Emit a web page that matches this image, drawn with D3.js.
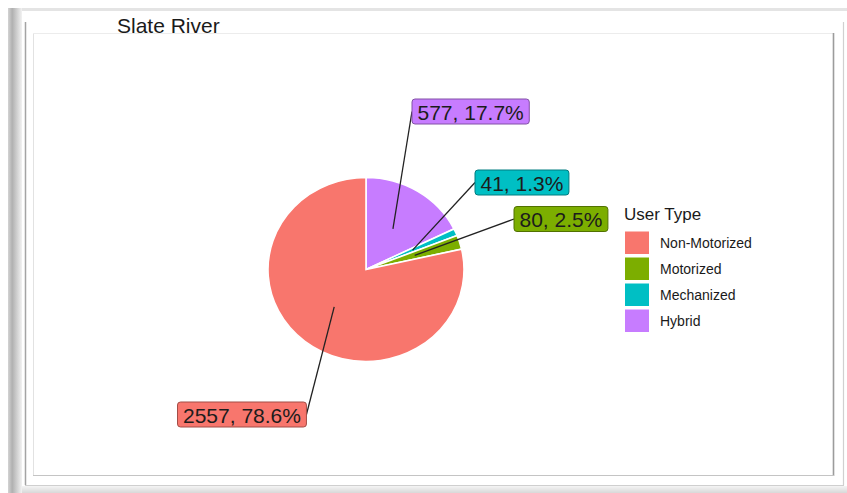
<!DOCTYPE html>
<html>
<head>
<meta charset="utf-8">
<script src="https://cdn.jsdelivr.net/npm/d3@7"></script>
<style>
  html, body { margin: 0; padding: 0; background: #fff; }
  svg { display: block; font-family: "Liberation Sans", Arial, sans-serif; }
</style>
</head>
<body>
<svg id="chart" width="847" height="493"></svg>
<script>
// Trail user counts for Slate River, by user type
const categories = ["Non-Motorized", "Motorized", "Mechanized", "Hybrid"];
const counts = [2557, 80, 41, 577];
const colors = ["#F8766D", "#7CAE00", "#00BFC4", "#C77CFF"];
const title = "Slate River";
const legendTitle = "User Type";

const W = 847, H = 493;
const svg = d3.select("#chart");

// ---- picture frame ----
const defs = svg.append("defs");
const lg = defs.append("linearGradient").attr("id", "leftShade").attr("x1", 0).attr("x2", 1).attr("y1", 0).attr("y2", 0);
lg.append("stop").attr("offset", "0%").attr("stop-color", "#d4d4d4");
lg.append("stop").attr("offset", "30%").attr("stop-color", "#b0b0b0");
lg.append("stop").attr("offset", "100%").attr("stop-color", "#f2f2f2");
const bg = defs.append("linearGradient").attr("id", "bottomShade").attr("x1", 0).attr("x2", 0).attr("y1", 0).attr("y2", 1);
bg.append("stop").attr("offset", "0%").attr("stop-color", "#f4f4f4");
bg.append("stop").attr("offset", "100%").attr("stop-color", "#d8d8d8");

const frame = svg.append("g");
frame.append("rect").attr("x", 0).attr("y", 0).attr("width", W).attr("height", H).attr("fill", "#fff");
frame.append("rect").attr("x", 20).attr("y", 8).attr("width", W - 20).attr("height", 3).attr("fill", "#e4e4e4");
frame.append("path").attr("d", "M8,8 L22,8 L22,493 L8,493 Z").attr("fill", "url(#leftShade)");
frame.append("rect").attr("x", 22).attr("y", 486).attr("width", W - 22).attr("height", 7).attr("fill", "url(#bottomShade)");
frame.append("line").attr("x1", 25.5).attr("x2", 25.5).attr("y1", 22).attr("y2", 485).attr("stroke", "#a4a4a4").attr("stroke-width", 1.5);
frame.append("line").attr("x1", 843.5).attr("x2", 843.5).attr("y1", 22).attr("y2", 485).attr("stroke", "#d0d0d0").attr("stroke-width", 1.2);
frame.append("line").attr("x1", 25).attr("x2", 844).attr("y1", 485.5).attr("y2", 485.5).attr("stroke", "#cfcfcf").attr("stroke-width", 1.2);
// inner panel
frame.append("line").attr("x1", 33.5).attr("x2", 33.5).attr("y1", 33).attr("y2", 475).attr("stroke", "#e2e2e2");
frame.append("line").attr("x1", 33).attr("x2", 833).attr("y1", 33.5).attr("y2", 33.5).attr("stroke", "#ececec");
frame.append("line").attr("x1", 833.5).attr("x2", 833.5).attr("y1", 33).attr("y2", 476).attr("stroke", "#9c9c9c").attr("stroke-width", 1.6);
frame.append("line").attr("x1", 33).attr("x2", 834).attr("y1", 475.5).attr("y2", 475.5).attr("stroke", "#c4c4c4").attr("stroke-width", 1.2);

// ---- title ----
svg.append("text").attr("x", 117).attr("y", 33).attr("font-size", 21).attr("fill", "#1a1a1a").text(title);

// ---- pie ----
const cx = 366, cy = 269.5, R = 92, sx = 98 / 92;
const total = d3.sum(counts);
const rows = categories.map((c, i) => ({ cat: c, count: counts[i], color: colors[i], pct: counts[i] / total * 100 }));
const colorScale = d3.scaleOrdinal().domain(categories).range(colors);

// slices run clockwise from 12 o'clock in reverse legend order
const pie = d3.pie().sort(null).value(d => d.count);
const arcs = pie(rows.slice().reverse());
const arc = d3.arc().innerRadius(0).outerRadius(R);
const labelArc = d3.arc().innerRadius(R * 0.52).outerRadius(R * 0.52);

const pieG = svg.append("g").attr("transform", `translate(${cx},${cy}) scale(${sx},1)`);
pieG.selectAll("path").data(arcs).join("path")
  .attr("d", arc)
  .attr("fill", d => colorScale(d.data.cat))
  .attr("stroke", "#fff")
  .attr("stroke-width", 1.6)
  .attr("vector-effect", "non-scaling-stroke");

// ---- repelled value labels ----
const labelLayout = {
  "Non-Motorized": [177.5, 402],
  "Motorized": [514, 206.5],
  "Mechanized": [475, 170],
  "Hybrid": [412, 99]
};
const fmt = d3.format(".1f");
const boxH = 25, padX = 5.5;
const labG = svg.append("g");
arcs.forEach(a => {
  const d = a.data;
  const [lx, ly] = labelLayout[d.cat];
  const c = labelArc.centroid(a);
  const start = [cx + c[0] * sx, cy + c[1]];
  const g = labG.append("g");
  const line = g.append("line").attr("stroke", "#222").attr("stroke-width", 1.3);
  const rect = g.append("rect").attr("rx", 3).attr("ry", 3)
    .attr("fill", colorScale(d.cat))
    .attr("stroke", d3.color(colorScale(d.cat)).darker(1.2))
    .attr("stroke-width", 1);
  const txt = g.append("text").attr("font-size", 21).attr("fill", "#1c1c1c")
    .attr("x", lx + padX).attr("y", ly + 20.5)
    .text(`${d.count}, ${fmt(d.pct)}%`);
  const w = txt.node().getComputedTextLength() + padX * 2;
  rect.attr("x", lx).attr("y", ly).attr("width", w).attr("height", boxH);
  const endX = lx > start[0] ? lx : lx + w;
  line.attr("x1", start[0]).attr("y1", start[1]).attr("x2", endX).attr("y2", ly + boxH / 2);
});

// ---- legend ----
const leg = svg.append("g").attr("transform", "translate(625,0)");
leg.append("text").attr("x", -1).attr("y", 220).attr("font-size", 17).attr("fill", "#1a1a1a").text(legendTitle);
const legY = d3.scaleBand().domain(categories).range([231.5, 332]).paddingInner(0.135);
const items = leg.selectAll("g.item").data(categories).join("g").attr("class", "item")
  .attr("transform", d => `translate(0,${legY(d)})`);
items.append("rect").attr("x", 0).attr("y", 0).attr("width", 24).attr("height", legY.bandwidth())
  .attr("fill", d => colorScale(d));
items.append("text").attr("x", 35).attr("y", legY.bandwidth() / 2 + 5)
  .attr("font-size", 14).attr("fill", "#1a1a1a").text(d => d);
</script>
</body>
</html>
